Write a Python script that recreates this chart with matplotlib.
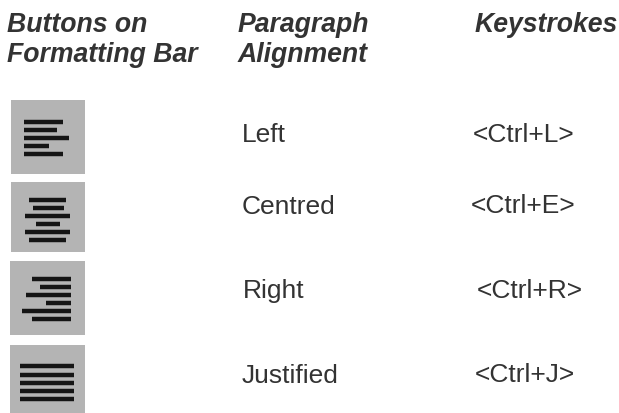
import matplotlib
matplotlib.use("Agg")
import matplotlib.pyplot as plt
from matplotlib.patches import Rectangle

W, H = 619, 414
header_lines = ["Buttons on", "Formatting Bar", "Paragraph", "Alignment", "Keystrokes"]
header_x = [7, 7, 238, 238, 475]
header_y = [32, 62, 32, 62, 32]
alignments = ["Left", "Centred", "Right", "Justified"]
align_x = [242, 242, 243, 242]
align_y = [142, 214, 298, 383]
keys = ["<Ctrl+L>", "<Ctrl+E>", "<Ctrl+R>", "<Ctrl+J>"]
keys_x = [473, 471, 477, 475]
keys_y = [142, 213, 298, 382]

icon_boxes = [(11, 85, 101, 175), (11, 85, 183, 253), (10, 85, 262, 336), (10, 85, 346, 414)]
icon_lines = [
    [(123, 24, 63), (131, 24, 57), (139, 24, 69), (147, 24, 49), (155, 24, 63)],
    [(201, 29, 66), (209, 33, 64), (217, 25, 70), (225, 36, 60), (233, 25, 70), (241, 29, 66)],
    [(280, 32, 71), (288, 40, 71), (296, 26, 71), (304, 46, 71), (312, 22, 71), (320, 32, 71)],
    [(367, 20, 74), (376, 20, 74), (384, 20, 74), (392, 20, 74), (400, 20, 74)],
]

fig = plt.figure(figsize=(W / 100, H / 100), dpi=100, facecolor="white")
ax = fig.add_axes([0, 0, 1, 1])
ax.set_xlim(0, W)
ax.set_ylim(H, 0)
ax.axis("off")

for (x0, x1, y0, y1), rows in zip(icon_boxes, icon_lines):
    ax.add_patch(Rectangle((x0, y0), x1 - x0, y1 - y0, fc="#b4b4b4", ec="none"))
    for y, a, b in rows:
        ax.plot([a, b], [y, y], color="#151515", lw=3.2, solid_capstyle="butt")

for t, x, y in zip(header_lines, header_x, header_y):
    ax.text(x, y, t, family="Liberation Sans", style="italic", weight="bold",
            fontsize=19.2, color="#333333", va="baseline", ha="left")

for t, x, y in zip(alignments, align_x, align_y):
    ax.text(x, y, t, family="Liberation Sans", fontsize=19, color="#333333", va="baseline", ha="left")
for t, x, y in zip(keys, keys_x, keys_y):
    ax.text(x, y, t, family="Liberation Sans", fontsize=19, color="#333333", va="baseline", ha="left")

fig.savefig("out.png", dpi=100)
